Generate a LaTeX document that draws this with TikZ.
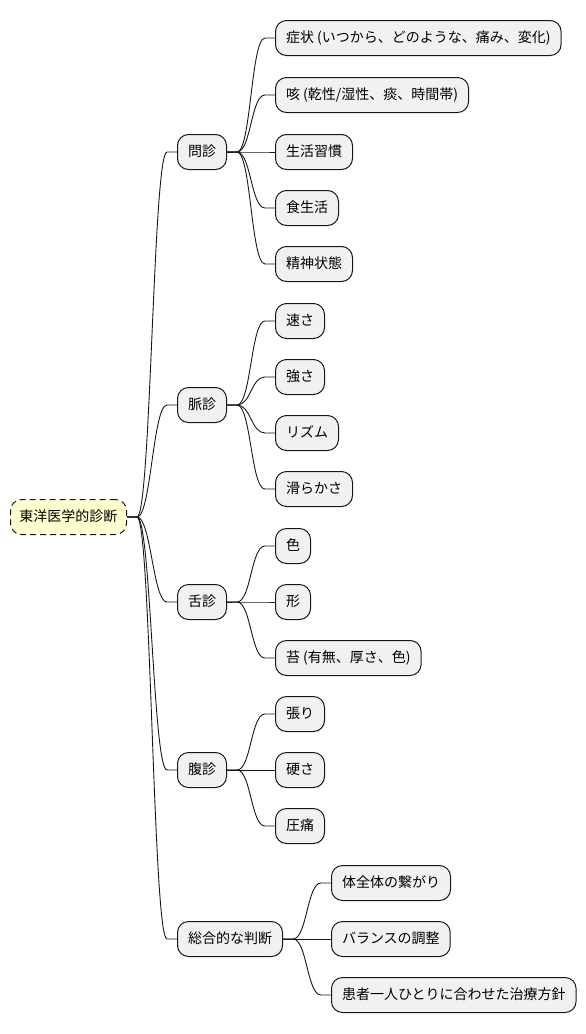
\documentclass[tikz,border=0pt]{standalone}
\usepackage{fontspec}
\setmainfont{Noto Sans CJK JP}
\usetikzlibrary{calc}
\definecolor{nodefill}{HTML}{F1F1F1}
\definecolor{rootfill}{HTML}{FEFECE}
\definecolor{edge}{HTML}{181818}
\tikzset{
  box/.style={draw=edge, line width=1pt, fill=nodefill, rounded corners=11pt,
    minimum height=35pt, inner xsep=10.5pt, inner ysep=0pt, anchor=west,
    font=\fontsize{14pt}{16pt}\selectfont, text height=11pt, text depth=2.5pt},
  rootbox/.style={box, fill=rootfill, inner xsep=9pt, dash pattern=on 6pt off 4pt},
  conn/.style={draw=edge, line width=0.9pt}
}
\newcommand{\link}[2]{%
  \draw[conn] let \p1=(#1.east), \p2=(#2.west) in
    (\p1) -- (\x1+10pt,\y1) .. controls (\x1+24pt,\y1) and (\x2-24pt,\y2) .. (\x2-10pt,\y2) -- (\p2);}
\begin{document}
\begin{tikzpicture}[x=1pt,y=1pt]
\useasboundingbox (0,0) rectangle (586,-1034);
\node[rootbox] (root) at (10,-517) {東洋医学的診断};

\node[box] (a) at (177,-152) {問診};
\node[box] (b) at (177,-405) {脈診};
\node[box] (c) at (177,-602) {舌診};
\node[box] (d) at (177,-770) {腹診};
\node[box] (e) at (177,-939) {総合的な判断};

\node[box] (a1) at (275,-38) {症状 (いつから、どのような、痛み、変化)};
\node[box] (a2) at (275,-95) {咳 (乾性/湿性、痰、時間帯)};
\node[box] (a3) at (275,-152) {生活習慣};
\node[box] (a4) at (275,-208) {食生活};
\node[box] (a5) at (275,-264) {精神状態};

\node[box] (b1) at (275,-321) {速さ};
\node[box] (b2) at (275,-377) {強さ};
\node[box] (b3) at (275,-433) {リズム};
\node[box] (b4) at (275,-489) {滑らかさ};

\node[box] (c1) at (275,-546) {色};
\node[box] (c2) at (275,-602) {形};
\node[box] (c3) at (275,-658) {苔 (有無、厚さ、色)};

\node[box] (d1) at (275,-714) {張り};
\node[box] (d2) at (275,-770) {硬さ};
\node[box] (d3) at (275,-826) {圧痛};

\node[box] (e1) at (331,-883) {体全体の繋がり};
\node[box] (e2) at (331,-939) {バランスの調整};
\node[box] (e3) at (331,-995) {患者一人ひとりに合わせた治療方針};

\foreach \c in {a,b,c,d,e} {\link{root}{\c}}
\foreach \c in {a1,a2,a3,a4,a5} {\link{a}{\c}}
\foreach \c in {b1,b2,b3,b4} {\link{b}{\c}}
\foreach \c in {c1,c2,c3} {\link{c}{\c}}
\foreach \c in {d1,d2,d3} {\link{d}{\c}}
\foreach \c in {e1,e2,e3} {\link{e}{\c}}
\end{tikzpicture}
\end{document}
